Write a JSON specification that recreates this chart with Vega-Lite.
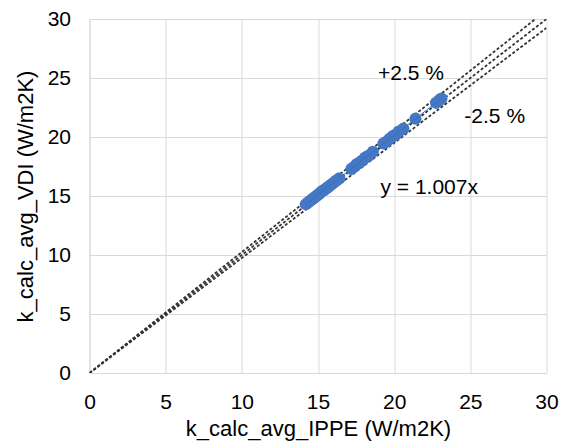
{
  "$schema": "https://vega.github.io/schema/vega-lite/v6.json",
  "autosize": "none",
  "padding": {"left": 89.5, "top": 19, "right": 19.5, "bottom": 75},
  "width": 457,
  "height": 354,
  "background": "white",
  "config": {
    "view": {"stroke": null},
    "font": "Liberation Sans",
    "axis": {
      "labelFont": "Liberation Sans",
      "titleFont": "Liberation Sans",
      "labelFontSize": 21,
      "titleFontSize": 22,
      "labelColor": "#000000",
      "titleColor": "#000000",
      "titleFontWeight": "normal",
      "gridColor": "#d9d9d9",
      "gridWidth": 1,
      "domainColor": "#d9d9d9",
      "labelFlush": false,
      "ticks": false
    }
  },
  "datasets": {
    "points": [
      {"ippe": 14.2, "vdi": 14.3},
      {"ippe": 14.35, "vdi": 14.45},
      {"ippe": 14.5, "vdi": 14.6},
      {"ippe": 14.65, "vdi": 14.75},
      {"ippe": 14.8, "vdi": 14.9},
      {"ippe": 14.95, "vdi": 15.05},
      {"ippe": 15.1, "vdi": 15.2},
      {"ippe": 15.25, "vdi": 15.4},
      {"ippe": 15.4, "vdi": 15.5},
      {"ippe": 15.55, "vdi": 15.65},
      {"ippe": 15.7, "vdi": 15.8},
      {"ippe": 15.85, "vdi": 15.95},
      {"ippe": 16.0, "vdi": 16.1},
      {"ippe": 16.2, "vdi": 16.3},
      {"ippe": 16.4, "vdi": 16.5},
      {"ippe": 17.2, "vdi": 17.3},
      {"ippe": 17.4, "vdi": 17.5},
      {"ippe": 17.55, "vdi": 17.7},
      {"ippe": 17.7, "vdi": 17.8},
      {"ippe": 17.9, "vdi": 18.0},
      {"ippe": 18.1, "vdi": 18.25},
      {"ippe": 18.3, "vdi": 18.4},
      {"ippe": 18.6, "vdi": 18.75},
      {"ippe": 19.3, "vdi": 19.45},
      {"ippe": 19.5, "vdi": 19.6},
      {"ippe": 19.7, "vdi": 19.85},
      {"ippe": 19.9, "vdi": 20.05},
      {"ippe": 20.1, "vdi": 20.2},
      {"ippe": 20.3, "vdi": 20.45},
      {"ippe": 20.6, "vdi": 20.7},
      {"ippe": 21.4, "vdi": 21.55},
      {"ippe": 22.75, "vdi": 22.9},
      {"ippe": 22.95, "vdi": 23.1},
      {"ippe": 23.1, "vdi": 23.25}
    ],
    "trend": [
      {"ippe": 14.2, "vdi": 14.3},
      {"ippe": 23.1, "vdi": 23.26}
    ],
    "guides": [
      {"line": "+2.5 %", "ippe": 0, "vdi": 0},
      {"line": "+2.5 %", "ippe": 29.27, "vdi": 30},
      {"line": "1:1", "ippe": 0, "vdi": 0},
      {"line": "1:1", "ippe": 30, "vdi": 30},
      {"line": "-2.5 %", "ippe": 0, "vdi": 0},
      {"line": "-2.5 %", "ippe": 30, "vdi": 29.25}
    ],
    "labels": [
      {"text": "+2.5 %", "ippe": 21.1, "vdi": 25.3},
      {"text": "-2.5 %", "ippe": 26.6, "vdi": 21.7},
      {"text": "y = 1.007x", "ippe": 22.3, "vdi": 15.7}
    ]
  },
  "layer": [
    {
      "data": {"name": "guides"},
      "mark": {"type": "line", "color": "#333333", "strokeWidth": 1.8, "strokeDash": [3, 2], "clip": true},
      "encoding": {
        "x": {"field": "ippe", "type": "quantitative", "scale": {"domain": [0, 30], "nice": false}, "axis": {"values": [0, 5, 10, 15, 20, 25, 30], "title": "k_calc_avg_IPPE (W/m2K)", "labelPadding": 18, "titlePadding": 6}},
        "y": {"field": "vdi", "type": "quantitative", "scale": {"domain": [0, 30], "nice": false}, "axis": {"values": [0, 5, 10, 15, 20, 25, 30], "title": "k_calc_avg_VDI (W/m2K)", "labelPadding": 19, "titlePadding": 10}},
        "detail": {"field": "line"}
      }
    },
    {
      "data": {"name": "points"},
      "mark": {"type": "circle", "color": "#4677c4", "opacity": 1, "size": 150},
      "encoding": {
        "x": {"field": "ippe", "type": "quantitative"},
        "y": {"field": "vdi", "type": "quantitative"}
      }
    },
    {
      "data": {"name": "trend"},
      "mark": {"type": "line", "color": "#2e75b6", "strokeWidth": 1},
      "encoding": {
        "x": {"field": "ippe", "type": "quantitative"},
        "y": {"field": "vdi", "type": "quantitative"}
      }
    },
    {
      "data": {"name": "labels"},
      "mark": {"type": "text", "fontSize": 21, "font": "Liberation Sans", "color": "#000000"},
      "encoding": {
        "x": {"field": "ippe", "type": "quantitative"},
        "y": {"field": "vdi", "type": "quantitative"},
        "text": {"field": "text"}
      }
    }
  ]
}
